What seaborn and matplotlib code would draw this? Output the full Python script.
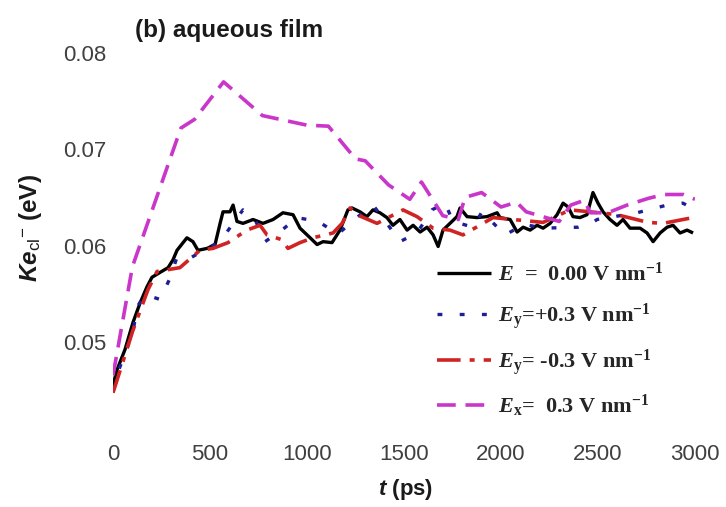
import matplotlib
matplotlib.use("Agg")
import matplotlib.pyplot as plt
import seaborn as sns
import pandas as pd

# Time axis (ps) and kinetic energy (eV) for each field condition
t_e0 = [0, 21, 62, 103, 139, 175, 201, 242, 284, 309, 330, 381, 412, 438, 485, 526,
        552, 567, 603, 619, 639, 670, 722, 773, 825, 876, 928, 964, 1016, 1052, 1083,
        1129, 1170, 1211, 1232, 1273, 1309, 1340, 1376, 1412, 1443, 1479, 1516, 1547,
        1583, 1619, 1650, 1676, 1701, 1737, 1773, 1789, 1825, 1876, 1928, 1980, 1995,
        2047, 2083, 2114, 2150, 2186, 2217, 2253, 2289, 2320, 2346, 2371, 2407, 2443,
        2474, 2500, 2526, 2562, 2598, 2629, 2665, 2717, 2753, 2784, 2820, 2856, 2887,
        2923, 2959, 2990]
ke_e0 = [0.0455, 0.0471, 0.0492, 0.0520, 0.0540, 0.0557, 0.0567, 0.0572, 0.0577,
         0.0585, 0.0595, 0.0608, 0.0604, 0.0595, 0.0597, 0.0601, 0.0623, 0.0635,
         0.0635, 0.0642, 0.0625, 0.0623, 0.0627, 0.0623, 0.0627, 0.0634, 0.0632,
         0.0618, 0.0608, 0.0601, 0.0604, 0.0603, 0.0616, 0.0637, 0.0639, 0.0635,
         0.0630, 0.0637, 0.0634, 0.0629, 0.0621, 0.0627, 0.0616, 0.0621, 0.0614,
         0.0619, 0.0611, 0.0599, 0.0616, 0.0623, 0.0630, 0.0639, 0.0630, 0.0629,
         0.0630, 0.0634, 0.0629, 0.0627, 0.0614, 0.0619, 0.0616, 0.0621, 0.0618,
         0.0623, 0.0632, 0.0644, 0.0640, 0.0630, 0.0629, 0.0632, 0.0655, 0.0644,
         0.0635, 0.0627, 0.0621, 0.0627, 0.0618, 0.0618, 0.0613, 0.0604, 0.0613,
         0.0619, 0.0621, 0.0613, 0.0616, 0.0613]

t_ey_pos = [0, 21, 62, 103, 124, 165, 242, 294, 330, 407, 485, 552, 619, 670, 732,
            784, 871, 948, 1057, 1160, 1263, 1340, 1412, 1479, 1567, 1644, 1711, 1753,
            1856, 1902, 2021, 2120, 2217, 2397, 2474, 2495, 2701, 2856, 2938, 3000]
ke_ey_pos = [0.0450, 0.0466, 0.0488, 0.0510, 0.0536, 0.0549, 0.0544, 0.0566, 0.0588,
             0.0588, 0.0597, 0.0604, 0.0623, 0.0637, 0.0627, 0.0604, 0.0616, 0.0629,
             0.0625, 0.0612, 0.0630, 0.0642, 0.0623, 0.0604, 0.0613, 0.0637, 0.0644,
             0.0625, 0.0619, 0.0635, 0.0611, 0.0622, 0.0618, 0.0619, 0.0624, 0.0627,
             0.0634, 0.0642, 0.0644, 0.0637]

t_ey_neg = [0, 103, 180, 227, 345, 448, 515, 593, 690, 758, 794, 871, 902, 964, 1031,
            1134, 1181, 1222, 1280, 1361, 1495, 1567, 1650, 1737, 1804, 1959, 2062,
            2217, 2356, 2510, 2598, 2758, 2835, 2990]
ke_ey_neg = [0.0447, 0.0512, 0.0554, 0.0573, 0.0577, 0.0595, 0.0597, 0.0603, 0.0616,
             0.0621, 0.0611, 0.0606, 0.0597, 0.0603, 0.0608, 0.0613, 0.0623, 0.0639,
             0.0630, 0.0623, 0.0637, 0.0630, 0.0618, 0.0616, 0.0611, 0.0629, 0.0627,
             0.0624, 0.0637, 0.0634, 0.0632, 0.0624, 0.0623, 0.0629]

t_ex = [0, 100, 350, 420, 570, 770, 1000, 1110, 1250, 1300, 1420, 1530, 1590, 1700,
        1780, 1815, 1900, 2000, 2080, 2130, 2300, 2360, 2430, 2460, 2550, 2650, 2760,
        2840, 2940, 3000]
ke_ex = [0.0465, 0.0578, 0.0722, 0.0731, 0.0770, 0.0735, 0.0725, 0.0724, 0.0690,
         0.0688, 0.0663, 0.0648, 0.0666, 0.0631, 0.0627, 0.0650, 0.0655, 0.0640,
         0.0645, 0.0635, 0.0625, 0.0642, 0.0647, 0.0634, 0.0634, 0.0642, 0.0649,
         0.0653, 0.0653, 0.0648]

x_ticks = [0, 500, 1000, 1500, 2000, 2500, 3000]
y_ticks = [0.05, 0.06, 0.07, 0.08]
y_tick_labels = ["0.05", "0.06", "0.07", "0.08"]

labels = [
    r"$\boldsymbol{E}$  =  0.00 V nm$^{\mathbf{-1}}$",
    r"$\boldsymbol{E}_{\mathbf{y}}$=+0.3 V nm$^{\mathbf{-1}}$",
    r"$\boldsymbol{E}_{\mathbf{y}}$= -0.3 V nm$^{\mathbf{-1}}$",
    r"$\boldsymbol{E}_{\mathbf{x}}$=  0.3 V nm$^{\mathbf{-1}}$",
]

sns.set_theme(style="white")
plt.rcParams["font.family"] = ["Liberation Sans", "DejaVu Sans"]
plt.rcParams["mathtext.fontset"] = "custom"
plt.rcParams["mathtext.rm"] = "Liberation Serif:bold"
plt.rcParams["mathtext.bf"] = "Liberation Serif:bold"
plt.rcParams["mathtext.it"] = "Liberation Serif:italic:bold"
plt.rcParams["mathtext.bfit"] = "Liberation Serif:italic:bold"
plt.rcParams["mathtext.sf"] = "Liberation Sans"
plt.rcParams["mathtext.tt"] = "Liberation Sans:italic:bold"
plt.rcParams["lines.scale_dashes"] = False

fig = plt.figure(figsize=(7.26, 5.07), dpi=100)
ax = fig.add_axes([113 / 726, 1 - 438 / 507, 582 / 726, 385 / 507])

series = [
    (t_e0, ke_e0, "#000000", 2.4, "-"),
    (t_ey_pos, ke_ey_pos, "#1e1e96", 2.4, (0, (3.5, 12.5))),
    (t_ey_neg, ke_ey_neg, "#d02424", 2.6, (0, (17, 6.5, 3.6, 6.5))),
    (t_ex, ke_ex, "#c936c9", 2.6, (0, (13.5, 7))),
]

handles = []
for (tt, kk, col, lw, ls), lab in zip(series, labels):
    df = pd.DataFrame({"t": tt, "ke": kk})
    sns.lineplot(data=df, x="t", y="ke", ax=ax, color=col, linewidth=lw,
                 estimator=None, sort=False, label=lab)
    line = ax.lines[-1]
    line.set_linestyle(ls)
    line.set_solid_capstyle("butt")
    line.set_dash_capstyle("butt")
    handles.append(line)

ax.set_xlim(0, 3000)
ax.set_ylim(0.04, 0.08)
ax.set_xticks(x_ticks)
ax.set_xticklabels([str(v) for v in x_ticks])
ax.set_yticks(y_ticks)
ax.set_yticklabels(y_tick_labels)
ax.tick_params(axis="both", length=0, labelsize=16, labelcolor="#404040")
ax.tick_params(axis="x", pad=4)
ax.tick_params(axis="y", pad=5)
sns.despine(ax=ax, left=True, bottom=True)
ax.set_xlabel("")
ax.set_ylabel("")

leg = ax.legend(handles=handles, labels=labels, loc="upper left",
                bbox_to_anchor=(437 / 726, 1 - 263 / 507),
                bbox_transform=fig.transFigure, frameon=False,
                prop={"family": "Liberation Serif", "weight": "bold", "size": 16},
                handlelength=2.45, handletextpad=0.3,
                labelspacing=0.68, borderaxespad=0, borderpad=0)

fig.text(135 / 726, 1 - 30 / 507, "(b) aqueous film", ha="left", va="center",
         fontsize=17.5, fontweight="bold", color="#1a1a1a")
fig.text(406 / 726, 1 - 490 / 507, r"$\mathtt{t}$ (ps)", ha="center", va="center",
         fontsize=16, fontweight="bold", color="#1a1a1a")
fig.text(30 / 726, 1 - 228 / 507, r"$\mathtt{Ke}_{\mathsf{cl}}{}^{\mathsf{-}}$ (eV)",
         ha="center", va="center", rotation=90, fontsize=17.5, fontweight="bold",
         color="#1a1a1a")

fig.savefig("out.png", dpi=100)
